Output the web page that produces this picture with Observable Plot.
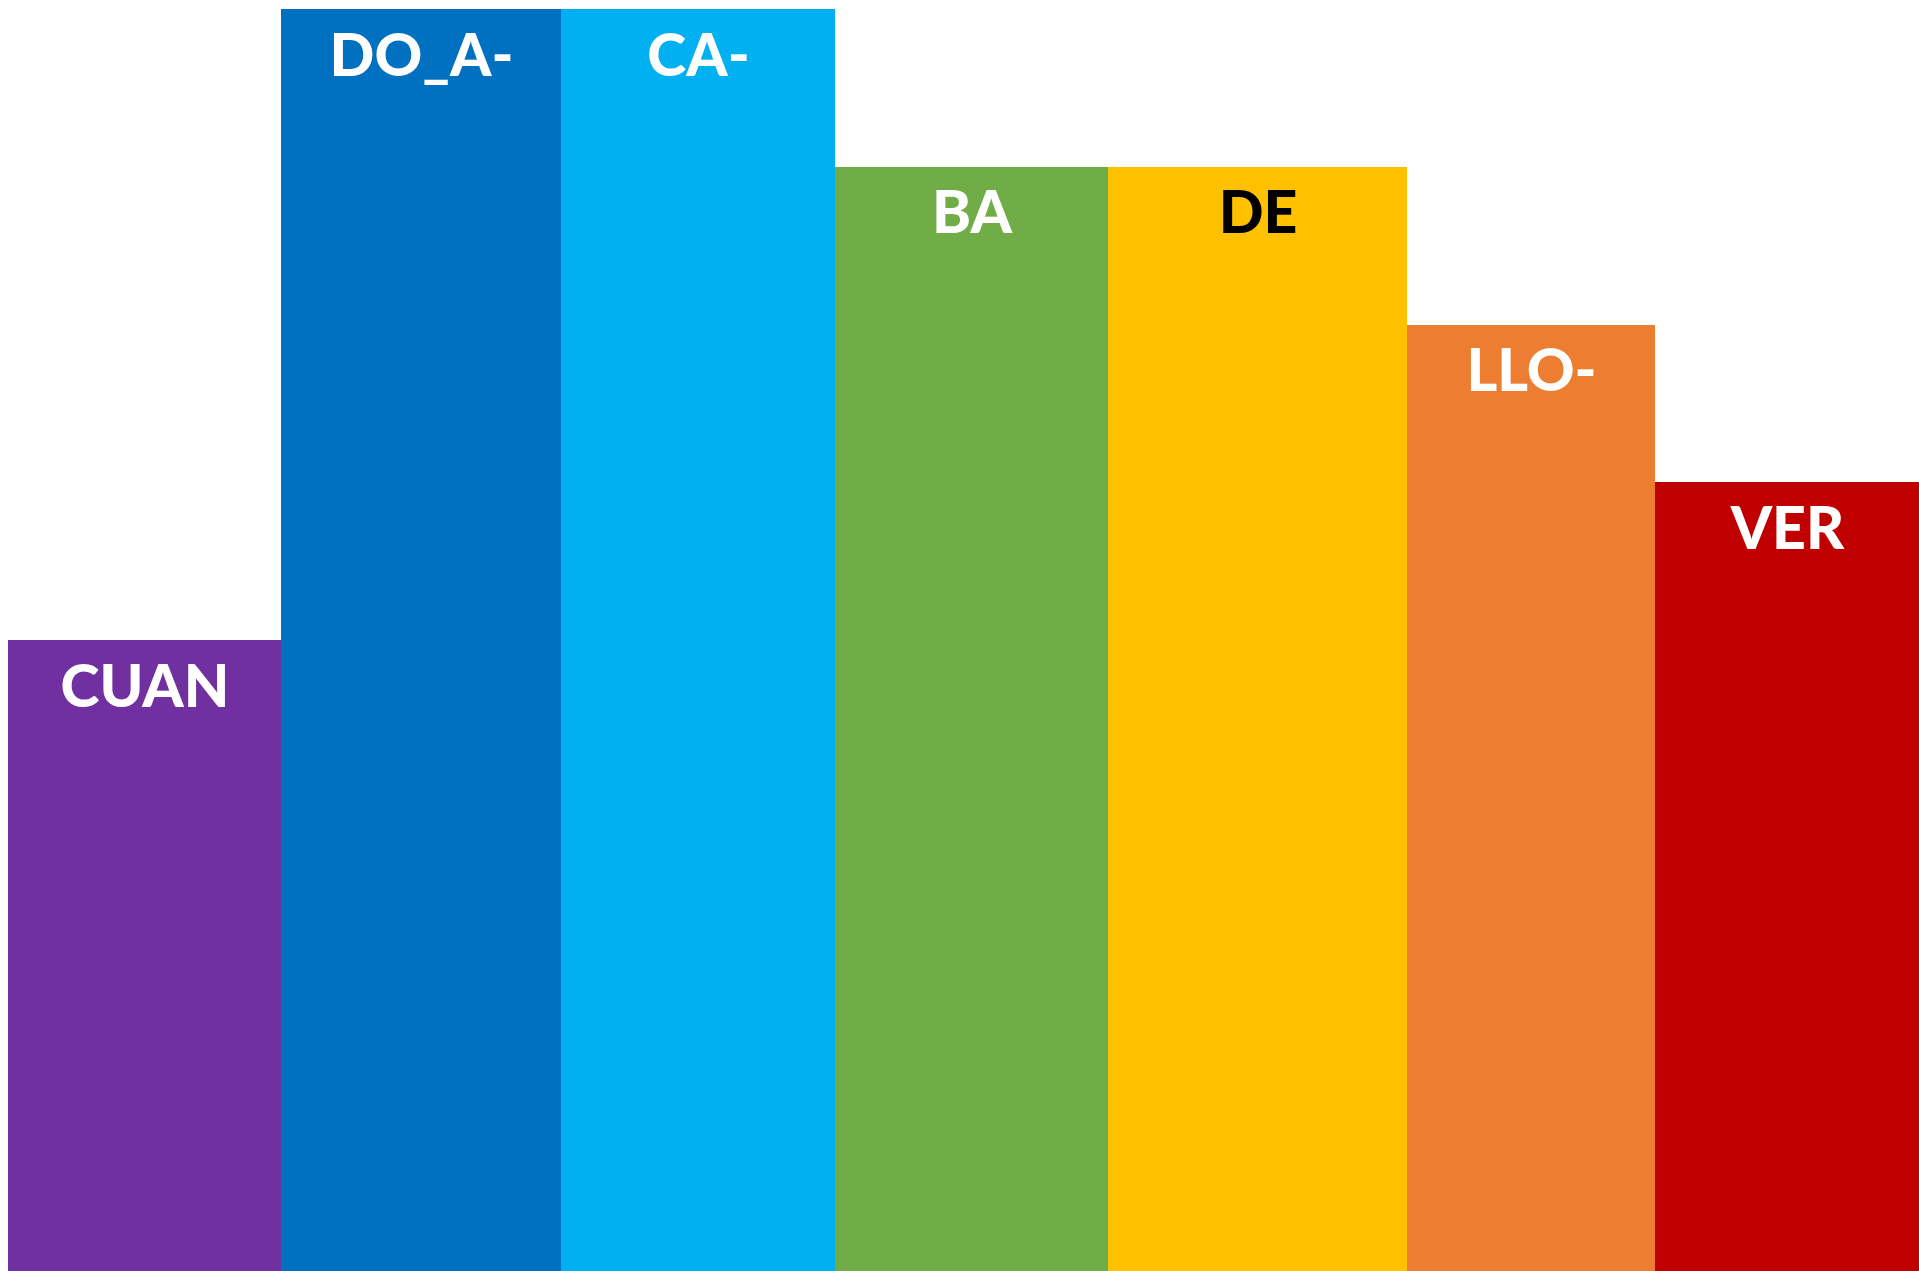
<!DOCTYPE html>
<html>
<head>
<meta charset="utf-8">
<script src="https://cdn.jsdelivr.net/npm/d3@7"></script>
<script src="https://cdn.jsdelivr.net/npm/@observablehq/plot@0.6"></script>
<style>
  html, body { margin: 0; padding: 0; background: #fff; }
  #chart svg { display: block; }
</style>
</head>
<body>
<div id="chart"></div>
<script>
const categories = ["CUAN", "DO_A-", "CA-", "BA", "DE", "LLO-", "VER"];
const values = [4, 8, 8, 7, 7, 6, 5];
const widths = [273, 280, 274, 273, 299, 248, 264];
const barColors = ["#7030A0", "#0070C0", "#00B0F0", "#70AD47", "#FFC000", "#ED7D31", "#C00000"];
const labelColors = ["#FFFFFF", "#FFFFFF", "#FFFFFF", "#FFFFFF", "#000000", "#FFFFFF", "#FFFFFF"];

let acc = 0;
const rows = categories.map((c, i) => {
  const r = {cat: c, value: values[i], x1: acc, x2: acc + widths[i], fill: barColors[i], label: labelColors[i]};
  acc += widths[i];
  return r;
});
const total = acc;

const chart = Plot.plot({
  width: 1919,
  height: 1271,
  margin: 0,
  x: {domain: [0, total], range: [8, 1919], axis: null},
  y: {domain: [0, 8], range: [1271, 9], axis: null},
  color: {type: "identity"},
  marks: [
    Plot.rect(rows, {x1: "x1", x2: "x2", y1: 0, y2: "value", fill: "fill", shapeRendering: "crispEdges"}),
    Plot.text(rows, {
      x: d => (d.x1 + d.x2) / 2,
      y: "value",
      text: "cat",
      fill: "label",
      lineAnchor: "bottom",
      dy: 66,
      fontSize: 59,
      fontWeight: 900,
      fontFamily: "Lato, 'Open Sans', sans-serif"
    })
  ]
});
document.getElementById("chart").appendChild(chart);
</script>
</body>
</html>
